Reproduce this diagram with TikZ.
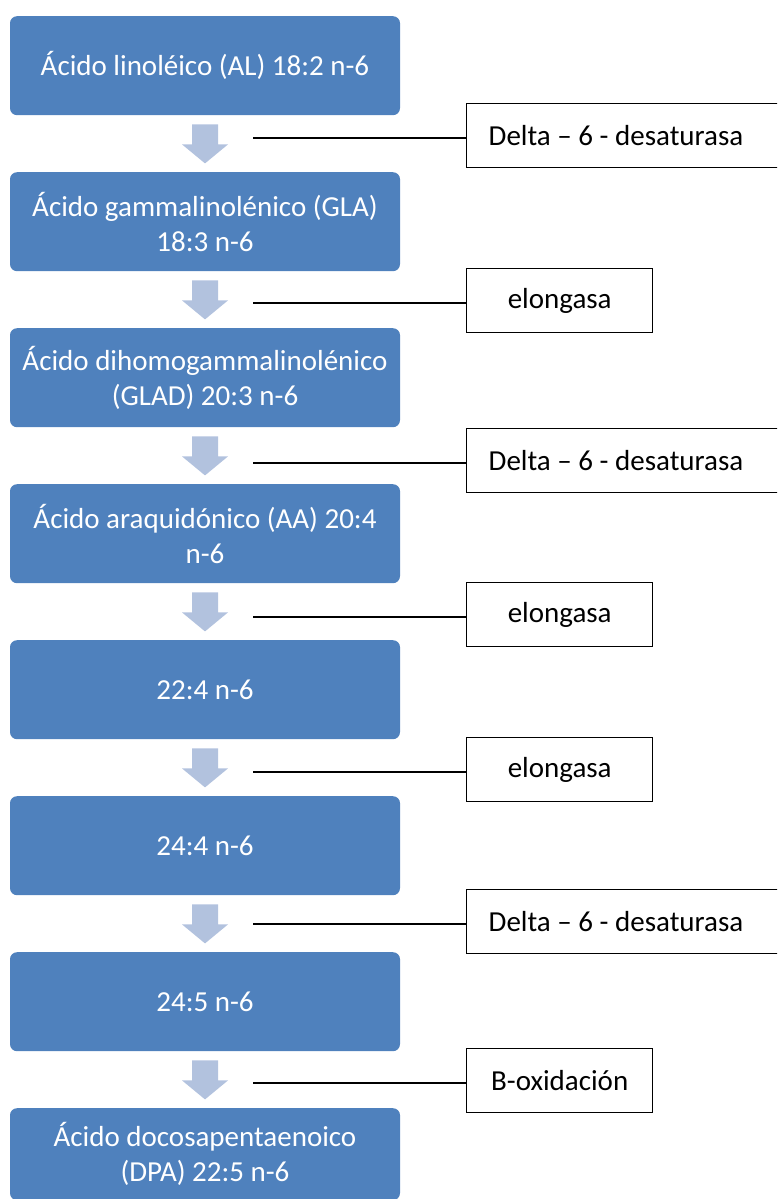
\documentclass[tikz,border=0pt]{standalone}
\usepackage{fontspec}
\setmainfont{Carlito}
\usetikzlibrary{calc}
\definecolor{stepblue}{RGB}{79,129,189}
\definecolor{arrowblue}{RGB}{178,194,222}
\begin{document}
\begin{tikzpicture}[x=1pt,y=-1pt,
  acid/.style={fill=stepblue, rounded corners=7pt, minimum width=390pt,
    minimum height=99pt, anchor=north, text=white, align=center,
    font=\fontsize{29}{35}\selectfont, inner sep=0pt},
  enzwide/.style={draw, line width=1.4pt, anchor=north west, minimum height=64pt,
    text width=302pt, align=flush left, inner xsep=22pt, inner ysep=0pt,
    font=\fontsize{29}{35}\selectfont},
  enz/.style={draw, line width=1.4pt, anchor=north west, minimum width=186pt,
    minimum height=64pt, inner sep=0pt, font=\fontsize{29}{35}\selectfont},
  link/.style={line width=1.4pt}
]
\useasboundingbox (0,0) rectangle (777,1199);
\clip (0,0) rectangle (777,1199);

% main chain of fatty acids
\node[acid] (b1) at (205,16)   {Ácido linoléico (AL) 18:2 n-6};
\node[acid] (b2) at (205,172)  {Ácido gammalinolénico (GLA)\\18:3 n-6};
\node[acid] (b3) at (205,328)  {Ácido dihomogammalinolénico\\(GLAD) 20:3 n-6};
\node[acid] (b4) at (205,484)  {Ácido araquidónico (AA) 20:4\\n-6};
\node[acid] (b5) at (205,640)  {22:4 n-6};
\node[acid] (b6) at (205,796)  {24:4 n-6};
\node[acid] (b7) at (205,952)  {24:5 n-6};
\node[acid, minimum height=92pt] (b8) at (205,1108) {Ácido docosapentaenoico\\(DPA) 22:5 n-6};

% block arrows between consecutive steps
\foreach \i in {1,...,7}{
  \fill[arrowblue]
    ($(b\i.south)+(-13,9)$) -- ($(b\i.south)+(13,9)$) --
    ($(b\i.south)+(13,29)$) -- ($(b\i.south)+(23,29)$) --
    ($(b\i.south)+(0,48)$) -- ($(b\i.south)+(-23,29)$) --
    ($(b\i.south)+(-13,29)$) -- cycle;
}

% enzymes
\node[enzwide] (e1) at (466,103)  {Delta – 6 - desaturasa};
\node[enz]     (e2) at (466,268)  {elongasa};
\node[enzwide] (e3) at (466,428)  {Delta – 6 - desaturasa};
\node[enz]     (e4) at (466,582)  {elongasa};
\node[enz]     (e5) at (466,737)  {elongasa};
\node[enzwide] (e6) at (466,889)  {Delta – 6 - desaturasa};
\node[enz]     (e7) at (466,1048) {B-oxidación};

% leader lines from each arrow to its enzyme
\coordinate (l1) at (253,138);
\coordinate (l2) at (253,303);
\coordinate (l3) at (253,463);
\coordinate (l4) at (253,617);
\coordinate (l5) at (253,772);
\coordinate (l6) at (253,924);
\coordinate (l7) at (253,1083);
\foreach \i in {1,...,7}{
  \draw[link] (l\i) -- (l\i -| e\i.west);
}
\end{tikzpicture}
\end{document}
